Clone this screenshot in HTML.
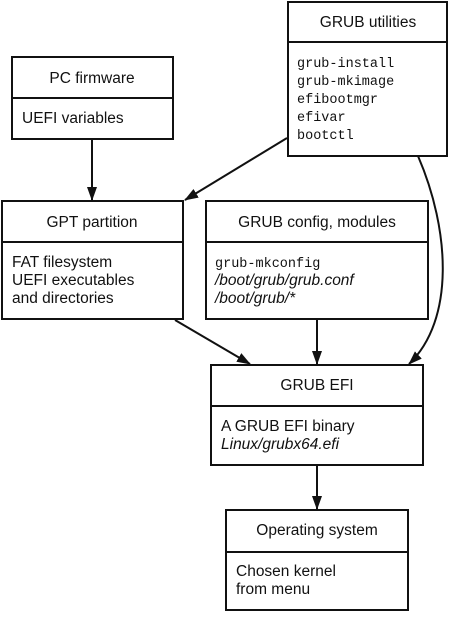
<!DOCTYPE html>
<html><head><style>
body{margin:0;background:#fff;}
svg text{font-family:"Liberation Sans",sans-serif;font-size:15.5px;fill:#111;}
.m{font-family:"Liberation Mono",monospace;font-size:13.5px;}
.i{font-style:italic;}
</style></head><body>
<svg width="451" height="612" viewBox="0 0 451 612" xmlns="http://www.w3.org/2000/svg">
<defs><marker id="b" markerWidth="14" markerHeight="10" refX="13" refY="5" orient="auto" markerUnits="userSpaceOnUse"><path d="M0,0 L14,5 L0,10 z" fill="#111"/></marker></defs>
<g fill="none" stroke="#111" stroke-width="2">
<rect x="288" y="2" width="159" height="154"/><line x1="288" y1="42" x2="447" y2="42"/>
<rect x="12" y="57" width="161" height="82"/><line x1="12" y1="98" x2="173" y2="98"/>
<rect x="2" y="201" width="181" height="118"/><line x1="2" y1="242" x2="183" y2="242"/>
<rect x="206" y="201" width="222" height="118"/><line x1="206" y1="242" x2="428" y2="242"/>
<rect x="211" y="365" width="212" height="100"/><line x1="211" y1="406" x2="423" y2="406"/>
<rect x="226" y="510" width="182" height="100"/><line x1="226" y1="552" x2="408" y2="552"/>
<line x1="92" y1="139" x2="92" y2="200" marker-end="url(#b)"/>
<line x1="287" y1="138" x2="185" y2="200" marker-end="url(#b)"/>
<line x1="175" y1="320" x2="250" y2="364" marker-end="url(#b)"/>
<line x1="317" y1="319" x2="317" y2="364" marker-end="url(#b)"/>
<path d="M418,156 C450,230 455,320 409,364" marker-end="url(#b)"/>
<line x1="317" y1="465" x2="317" y2="509" marker-end="url(#b)"/>
</g>
<text x="368" y="27" text-anchor="middle">GRUB utilities</text>
<text class="m" x="297" y="67">grub-install</text>
<text class="m" x="297" y="85">grub-mkimage</text>
<text class="m" x="297" y="103">efibootmgr</text>
<text class="m" x="297" y="121">efivar</text>
<text class="m" x="297" y="139">bootctl</text>
<text x="92" y="83" text-anchor="middle">PC firmware</text>
<text x="22" y="123">UEFI variables</text>
<text x="92" y="227" text-anchor="middle">GPT partition</text>
<text x="12" y="267">FAT filesystem</text>
<text x="12" y="285">UEFI executables</text>
<text x="12" y="303">and directories</text>
<text x="317" y="227" text-anchor="middle">GRUB config, modules</text>
<text class="m" x="215" y="267">grub-mkconfig</text>
<text class="i" x="215" y="285">/boot/grub/grub.conf</text>
<text class="i" x="215" y="303">/boot/grub/*</text>
<text x="317" y="390" text-anchor="middle">GRUB EFI</text>
<text x="221" y="431">A GRUB EFI binary</text>
<text class="i" x="221" y="449">Linux/grubx64.efi</text>
<text x="317" y="535" text-anchor="middle">Operating system</text>
<text x="236" y="576">Chosen kernel</text>
<text x="236" y="594">from menu</text>
</svg>
</body></html>
